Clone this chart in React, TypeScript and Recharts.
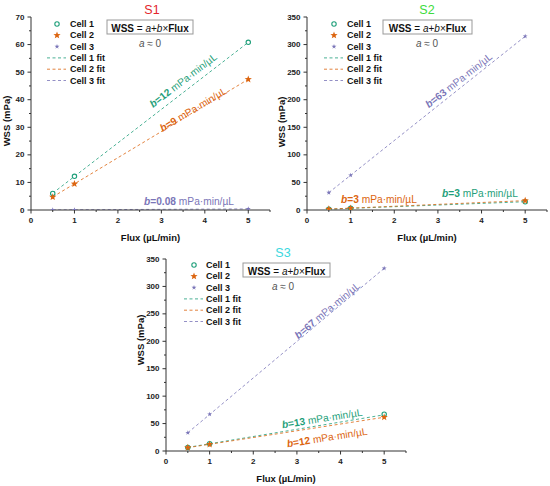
import React from 'react';
import { ComposedChart, Line, Scatter, XAxis, YAxis } from 'recharts';

const FONT = '"Liberation Sans", Arial, sans-serif';

const TEAL = '#1f9f7a';
const ORANGE = '#dc6510';
const PURPLE = '#7a75b8';

// x values of the measured points and of the fit endpoints
const FLUX = [0.5, 1, 5];
const FIT_FLUX = [0.5, 5];

const X_TICKS = [0, 0.5, 1, 1.5, 2, 2.5, 3, 3.5, 4, 4.5, 5, 5.5];
const X_LABELS = [0, 1, 2, 3, 4, 5];

// S1
const S1_CELL1 = [6.0, 12.2, 60.8];
const S1_CELL2 = [4.7, 9.5, 47.4];
const S1_CELL3 = [0.04, 0.08, 0.4];
const S1_FIT1 = [6.1, 60.8];
const S1_FIT2 = [4.75, 47.4];
const S1_FIT3 = [0.04, 0.4];
const S1_Y_TICKS = [0, 5, 10, 15, 20, 25, 30, 35, 40, 45, 50, 55, 60, 65, 70];
const S1_Y_LABELS = [0, 10, 20, 30, 40, 50, 60, 70];

// S2
const S2_CELL1 = [1.5, 3.0, 15.0];
const S2_CELL2 = [1.6, 3.3, 17.0];
const S2_CELL3 = [31.5, 63, 315];
const S2_FIT1 = [1.5, 15.0];
const S2_FIT2 = [1.7, 17.0];
const S2_FIT3 = [31.5, 315];
const S23_Y_TICKS = [0, 25, 50, 75, 100, 125, 150, 175, 200, 225, 250, 275, 300, 325, 350];
const S23_Y_LABELS = [0, 50, 100, 150, 200, 250, 300, 350];

// S3
const S3_CELL1 = [6.6, 13.2, 67];
const S3_CELL2 = [6.1, 12.2, 61.5];
const S3_CELL3 = [33.3, 67, 333];
const S3_FIT1 = [6.6, 66];
const S3_FIT2 = [6.1, 61.5];
const S3_FIT3 = [33.3, 333];

const toPoints = (xs: number[], ys: number[]) => xs.map((x, i) => ({ x, y: ys[i] }));

const starPath = (cx: number, cy: number, ro: number, ri: number, n = 5) => {
  const pts: string[] = [];
  for (let i = 0; i < n * 2; i++) {
    const r = i % 2 === 0 ? ro : ri;
    const a = -Math.PI / 2 + (i * Math.PI) / n;
    pts.push(`${cx + r * Math.cos(a)},${cy + r * Math.sin(a)}`);
  }
  return pts.join(' ');
};

const Marker = ({ kind, cx, cy }: { kind: number; cx: number; cy: number }) => {
  if (kind === 0) {
    return <circle cx={cx} cy={cy} r={2.2} fill="#fff" stroke={TEAL} strokeWidth={1.1} />;
  }
  if (kind === 1) {
    return <polygon points={starPath(cx, cy, 3.8, 1.6)} fill={ORANGE} />;
  }
  return <polygon points={starPath(cx, cy, 2.6, 1.0)} fill={PURPLE} />;
};

const COLORS = [TEAL, ORANGE, PURPLE];

const YTick = (props: any) => {
  const { x, y, payload, labels } = props;
  const major = labels.includes(payload.value);
  return (
    <g>
      <line x1={x} x2={x - (major ? 3.5 : 2)} y1={y} y2={y} stroke="#333" strokeWidth={1} />
      {major && (
        <text x={x - 6.5} y={y} textAnchor="end" dominantBaseline="central" fontSize={8} fontWeight="bold" fill="#222" fontFamily={FONT}>
          {payload.value}
        </text>
      )}
    </g>
  );
};

const XTick = (props: any) => {
  const { x, y, payload } = props;
  const major = X_LABELS.includes(payload.value);
  return (
    <g>
      <line x1={x} x2={x} y1={y} y2={y + (major ? 3.5 : 2)} stroke="#333" strokeWidth={1} />
      {major && (
        <text x={x} y={y + 10} textAnchor="middle" dominantBaseline="central" fontSize={8} fontWeight="bold" fill="#222" fontFamily={FONT}>
          {payload.value}
        </text>
      )}
    </g>
  );
};

const Slope = ({ x, y, angle, color, value }: { x: number; y: number; angle: number; color: string; value: string }) => (
  <text
    x={x}
    y={y}
    transform={`rotate(${angle} ${x} ${y})`}
    textAnchor="middle"
    dominantBaseline="central"
    fontSize={10.2}
    fill={color}
    fontFamily={FONT}
  >
    <tspan fontWeight="bold" fontStyle="italic">b</tspan>
    <tspan fontWeight="bold">={value}</tspan>
    <tspan> mPa·min/µL</tspan>
  </text>
);

const LEGEND_NAMES = ['Cell 1', 'Cell 2', 'Cell 3', 'Cell 1 fit', 'Cell 2 fit', 'Cell 3 fit'];

const Legend = ({ mx, tx, y0 }: { mx: number; tx: number; y0: number }) => (
  <g>
    {LEGEND_NAMES.map((name, i) => {
      const y = y0 + i * 11.3;
      return (
        <g key={name}>
          {i < 3 ? (
            <Marker kind={i} cx={mx} cy={y} />
          ) : (
            <line x1={mx - 10} x2={mx + 9} y1={y} y2={y} stroke={COLORS[i - 3]} strokeWidth={1} strokeDasharray="3 2.5" opacity={0.8} />
          )}
          <text x={tx} y={y} dominantBaseline="central" fontSize={9} fontWeight="bold" fill="#111" fontFamily={FONT}>
            {name}
          </text>
        </g>
      );
    })}
  </g>
);

const Formula = ({ x0, x1, y0, cx }: { x0: number; x1: number; y0: number; cx: number }) => (
  <g fontFamily={FONT}>
    <rect x={x0} y={y0} width={x1 - x0} height={14} fill="#fff" stroke="#999" strokeWidth={1} />
    <text x={(x0 + x1) / 2} y={y0 + 7.5} textAnchor="middle" dominantBaseline="central" fontSize={10} fill="#111">
      <tspan fontWeight="bold">WSS</tspan>
      <tspan> = </tspan>
      <tspan fontStyle="italic">a</tspan>
      <tspan>+</tspan>
      <tspan fontStyle="italic">b</tspan>
      <tspan>×</tspan>
      <tspan fontWeight="bold">Flux</tspan>
    </text>
    <text x={cx} y={y0 + 23} textAnchor="middle" dominantBaseline="central" fontSize={10} fill="#555">
      <tspan fontStyle="italic">a</tspan>
      <tspan> ≈ 0</tspan>
    </text>
  </g>
);

interface PanelProps {
  left: number;
  top: number;
  width: number;
  height: number;
  margin: { top: number; right: number; bottom: number; left: number };
  yAxisWidth: number;
  yMax: number;
  yTicks: number[];
  yLabels: number[];
  cells: number[][];
  fits: number[][];
  title: string;
  titleColor: string;
  titleX: number;
  titleY: number;
  yLabelX: number;
  yLabelY: number;
  children?: React.ReactNode;
}

const Panel = (p: PanelProps) => {
  const plotLeft = p.margin.left + p.yAxisWidth;
  const plotRight = p.width - p.margin.right;
  const axisY = p.height - p.margin.bottom - 30;
  return (
    <div style={{ position: 'absolute', left: p.left, top: p.top, width: p.width, height: p.height }}>
      <ComposedChart width={p.width} height={p.height} margin={p.margin}>
        <XAxis
          type="number"
          dataKey="x"
          domain={[0, 5.5]}
          ticks={X_TICKS}
          interval={0}
          height={30}
          tickSize={0}
          tickMargin={0}
          tickLine={false}
          tick={<XTick />}
          stroke="#333"
          allowDataOverflow
        />
        <YAxis
          type="number"
          dataKey="y"
          domain={[0, p.yMax]}
          ticks={p.yTicks}
          interval={0}
          width={p.yAxisWidth}
          tickSize={0}
          tickMargin={0}
          tickLine={false}
          tick={<YTick labels={p.yLabels} />}
          stroke="#333"
          allowDataOverflow
        />
        {p.fits.map((f, i) => (
          <Line
            key={`fit-${i}`}
            data={toPoints(FIT_FLUX, f)}
            dataKey="y"
            type="linear"
            stroke={COLORS[i]}
            strokeWidth={1}
            strokeDasharray="3 2.5"
            strokeOpacity={0.8}
            dot={false}
            activeDot={false}
            isAnimationActive={false}
          />
        ))}
        {p.cells.map((c, i) => (
          <Scatter
            key={`cell-${i}`}
            data={toPoints(FLUX, c)}
            fill={COLORS[i]}
            shape={(s: any) => <Marker kind={i} cx={s.cx} cy={s.cy} />}
            isAnimationActive={false}
          />
        ))}
      </ComposedChart>
      <svg
        width={p.width}
        height={p.height}
        style={{ position: 'absolute', left: 0, top: 0, pointerEvents: 'none', overflow: 'visible' }}
      >
        <text x={p.titleX} y={p.titleY} textAnchor="middle" dominantBaseline="central" fontSize={12.5} fill={p.titleColor} fontFamily={FONT}>
          {p.title}
        </text>
        <text
          x={p.yLabelX}
          y={p.yLabelY}
          transform={`rotate(-90 ${p.yLabelX} ${p.yLabelY})`}
          textAnchor="middle"
          dominantBaseline="central"
          fontSize={9.5}
          fontWeight="bold"
          fill="#111"
          fontFamily={FONT}
        >
          WSS (mPa)
        </text>
        <text
          x={(plotLeft + plotRight) / 2}
          y={axisY + 27}
          textAnchor="middle"
          dominantBaseline="central"
          fontSize={9.5}
          fontWeight="bold"
          fill="#111"
          fontFamily={FONT}
        >
          Flux (µL/min)
        </text>
        {p.children}
      </svg>
    </div>
  );
};

export default function App() {
  return (
    <div style={{ position: 'absolute', left: 0, top: 0, width: 550, height: 486, background: '#fff', fontFamily: FONT }}>
      <Panel
        left={0}
        top={0}
        width={275}
        height={245}
        margin={{ top: 17, right: 5, bottom: 5, left: 0 }}
        yAxisWidth={31}
        yMax={70}
        yTicks={S1_Y_TICKS}
        yLabels={S1_Y_LABELS}
        cells={[S1_CELL1, S1_CELL2, S1_CELL3]}
        fits={[S1_FIT1, S1_FIT2, S1_FIT3]}
        title="S1"
        titleColor="#e3262c"
        titleX={152}
        titleY={10}
        yLabelX={6}
        yLabelY={121}
      >
        <Legend mx={57} tx={70} y0={24} />
        <Formula x0={107} x1={193} y0={20} cx={150} />
        <Slope x={183} y={80} angle={-37.5} color={TEAL} value="12" />
        <Slope x={193} y={109} angle={-31} color={ORANGE} value="9" />
        <Slope x={189} y={201} angle={0} color={PURPLE} value="0.08" />
      </Panel>
      <Panel
        left={275}
        top={0}
        width={275}
        height={245}
        margin={{ top: 17, right: 3, bottom: 5, left: 0 }}
        yAxisWidth={32}
        yMax={350}
        yTicks={S23_Y_TICKS}
        yLabels={S23_Y_LABELS}
        cells={[S2_CELL1, S2_CELL2, S2_CELL3]}
        fits={[S2_FIT1, S2_FIT2, S2_FIT3]}
        title="S2"
        titleColor="#3ddc3d"
        titleX={152}
        titleY={10}
        yLabelX={6}
        yLabelY={122}
      >
        <Legend mx={59} tx={72} y0={24} />
        <Formula x0={108} x1={197} y0={20} cx={152} />
        <Slope x={183.5} y={80} angle={-38} color={PURPLE} value="63" />
        <Slope x={104} y={199} angle={0} color={ORANGE} value="3" />
        <Slope x={205} y={193} angle={0} color={TEAL} value="3" />
      </Panel>
      <Panel
        left={135}
        top={240}
        width={275}
        height={246}
        margin={{ top: 19, right: 4, bottom: 5, left: 0 }}
        yAxisWidth={31}
        yMax={350}
        yTicks={S23_Y_TICKS}
        yLabels={S23_Y_LABELS}
        cells={[S3_CELL1, S3_CELL2, S3_CELL3]}
        fits={[S3_FIT1, S3_FIT2, S3_FIT3]}
        title="S3"
        titleColor="#3ad8e0"
        titleX={148}
        titleY={13}
        yLabelX={5}
        yLabelY={100}
      >
        <Legend mx={59} tx={71} y0={25} />
        <Formula x0={108} x1={195} y0={23} cx={148} />
        <Slope x={192} y={70} angle={-40} color={PURPLE} value="67" />
        <Slope x={187} y={178} angle={-9} color={TEAL} value="13" />
        <Slope x={192} y={197} angle={-9} color={ORANGE} value="12" />
      </Panel>
    </div>
  );
}
